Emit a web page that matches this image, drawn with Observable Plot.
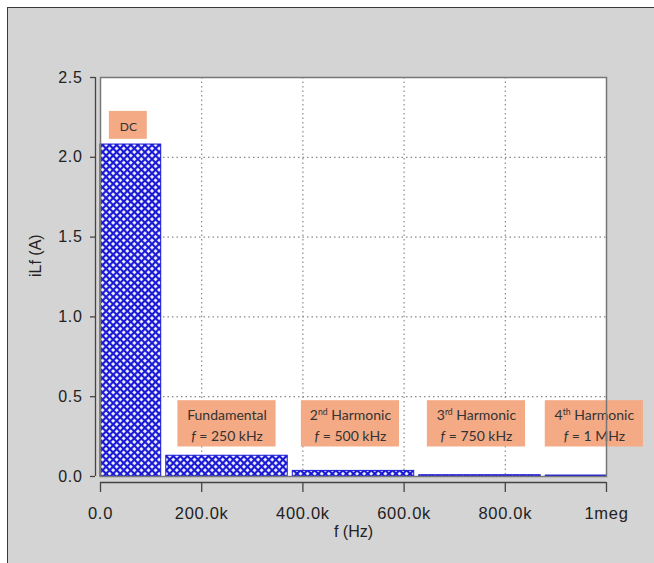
<!DOCTYPE html>
<html>
<head>
<meta charset="utf-8">
<script src="https://cdn.jsdelivr.net/npm/d3@7"></script>
<script src="https://cdn.jsdelivr.net/npm/@observablehq/plot@0.6"></script>
<style>
  html, body { margin: 0; padding: 0; background: #ffffff; }
  #wrap { position: relative; width: 654px; height: 563px; overflow: hidden; }
  #panel { position: absolute; left: 7px; top: 7px; right: 0; bottom: 0;
           background: #d4d4d4; border-top: 1.5px solid #3a3a3a; border-left: 1.5px solid #3a3a3a; }
  #chart { position: absolute; left: 0; top: 0; }
</style>
</head>
<body>
<div id="wrap"><div id="panel"></div><div id="chart"></div></div>
<script>
// ---- data ----
const harmonicFreqs = [0, 250000, 500000, 750000, 1000000];      // Hz
const harmonicAmps  = [2.08, 0.13, 0.035, 0.008, 0.006];          // A
const xTicks = [0, 200000, 400000, 600000, 800000, 1000000];
const xTickLabels = ["0.0", "200.0k", "400.0k", "600.0k", "800.0k", "1meg"];
const yTicks = [0, 0.5, 1.0, 1.5, 2.0, 2.5];
const yTickLabels = ["0.0", "0.5", "1.0", "1.5", "2.0", "2.5"];
const noteTitles = ["DC", "Fundamental", "2nd Harmonic", "3rd Harmonic", "4th Harmonic"];
const noteFreqs  = ["", "f = 250 kHz", "f = 500 kHz", "f = 750 kHz", "f = 1 MHz"];
const noteX = [55000, 250000, 494000, 743000, 976000];
const noteY = [2.2, 0.33, 0.33, 0.33, 0.33];

const bars = harmonicFreqs.map((f, i) => ({f, amp: harmonicAmps[i]}));
const notes = noteTitles.map((t, i) => ({
  text: noteFreqs[i] ? t + "\n" + noteFreqs[i] : t,
  x: noteX[i], y: noteY[i], small: i === 0
}));

const halfBar = 120000;
const blue = "#1a1ad6";
const orange = "#f3aa85";
const axisFont = "Liberation Sans, Arial, Helvetica, sans-serif";
const noteFont = "Lato";

const chart = Plot.plot({
  width: 654, height: 563,
  marginLeft: 100, marginRight: 48, marginTop: 77, marginBottom: 87,
  style: {background: "transparent", fontFamily: axisFont, fontSize: "16px", color: "#222"},
  x: {domain: [0, 1000000]},
  y: {domain: [0, 2.5]},
  marks: [
    Plot.frame({fill: "white"}),
    Plot.gridX(xTicks.slice(1, -1), {stroke: "#8a8a8a", strokeOpacity: 1, strokeDasharray: "1.5,3", strokeWidth: 1.2}),
    Plot.gridY(yTicks.slice(1, -1), {stroke: "#8a8a8a", strokeOpacity: 1, strokeDasharray: "1.5,3", strokeWidth: 1.2}),
    Plot.rect(bars, {
      x1: d => Math.max(0, d.f - halfBar),
      x2: d => Math.min(1000000, d.f + halfBar),
      y1: 0, y2: "amp",
      fill: "url(#hatch)", stroke: blue, strokeWidth: 1
    }),
    Plot.rect(notes, {
      x1: d => d.x - (d.small ? 37500 : 97000),
      x2: d => d.x + (d.small ? 37500 : 97000),
      y1: d => d.y - (d.small ? 0.0875 : 0.145),
      y2: d => d.y + (d.small ? 0.0875 : 0.145),
      fill: orange
    }),
    Plot.text(notes, {
      x: "x", y: "y", text: "text", className: "notes",
      fontFamily: noteFont,
      fontSize: d => d.small ? 12 : 14, lineHeight: 1.5, fill: "#333"
    }),
    Plot.frame({stroke: "#777", strokeWidth: 1.5}),
    Plot.ruleX([0], {y1: 0, y2: 2.5, dx: -5, stroke: "#444", strokeWidth: 1.3}),
    Plot.ruleY([0], {x1: 0, x2: 1000000, dy: 6, stroke: "#444", strokeWidth: 1.3}),
    Plot.axisY({ticks: yTicks, tickFormat: (d, i) => yTickLabels[i], dx: -5, tickSize: 5, tickPadding: 8,
      fontFamily: axisFont, fontSize: 16, fill: "#222", stroke: "#444", strokeWidth: 1.3}),
    Plot.axisX({ticks: xTicks, tickFormat: (d, i) => xTickLabels[i], dy: 6, tickSize: 10, tickPadding: 15,
      fontFamily: axisFont, fontSize: 16.5, fill: "#222", stroke: "#444", strokeWidth: 1.3, label: null}),
    Plot.text(["f (Hz)"], {frameAnchor: "bottom", dy: 60, fontFamily: axisFont, fontSize: 16, fill: "#222"}),
    Plot.text(["iLf (A)"], {frameAnchor: "left", dx: -65, rotate: -90, fontFamily: axisFont, fontSize: 16, fill: "#222"})
  ]
});

// hatch pattern for the bars
const ns = "http://www.w3.org/2000/svg";
const defs = document.createElementNS(ns, "defs");
defs.innerHTML = `<pattern id="hatch" width="5" height="5" patternUnits="userSpaceOnUse" patternTransform="rotate(45)">
  <rect width="5" height="5" fill="${blue}"/>
  <rect x="1.1" y="1.1" width="2.8" height="2.8" fill="#ffffff"/>
</pattern>`;
chart.insertBefore(defs, chart.firstChild);

// slightly spaced tick labels, as in the original
chart.querySelectorAll('[aria-label="x-axis tick label"], [aria-label="y-axis tick label"]').forEach(g => {
  g.style.letterSpacing = "0.7px";
});

// superscripts and italic f in the annotation text
function enrich(el) {
  const s = el.textContent;
  let m;
  if ((m = s.match(/^(\d)(st|nd|rd|th)(.*)$/))) {
    el.textContent = m[1];
    const sup = document.createElementNS(ns, "tspan");
    sup.setAttribute("baseline-shift", "super");
    sup.setAttribute("font-size", "0.62em");
    sup.textContent = m[2];
    el.appendChild(sup);
    const rest = document.createElementNS(ns, "tspan");
    rest.textContent = m[3];
    el.appendChild(rest);
  } else if (s.startsWith("f ")) {
    el.textContent = "";
    const it = document.createElementNS(ns, "tspan");
    it.setAttribute("font-style", "italic");
    it.textContent = "f";
    el.appendChild(it);
    el.appendChild(document.createTextNode(s.slice(1)));
  }
}
chart.querySelectorAll(".notes text").forEach(t => {
  const spans = t.querySelectorAll("tspan");
  if (spans.length) spans.forEach(enrich); else enrich(t);
});

document.getElementById("chart").appendChild(chart);
</script>
</body>
</html>
